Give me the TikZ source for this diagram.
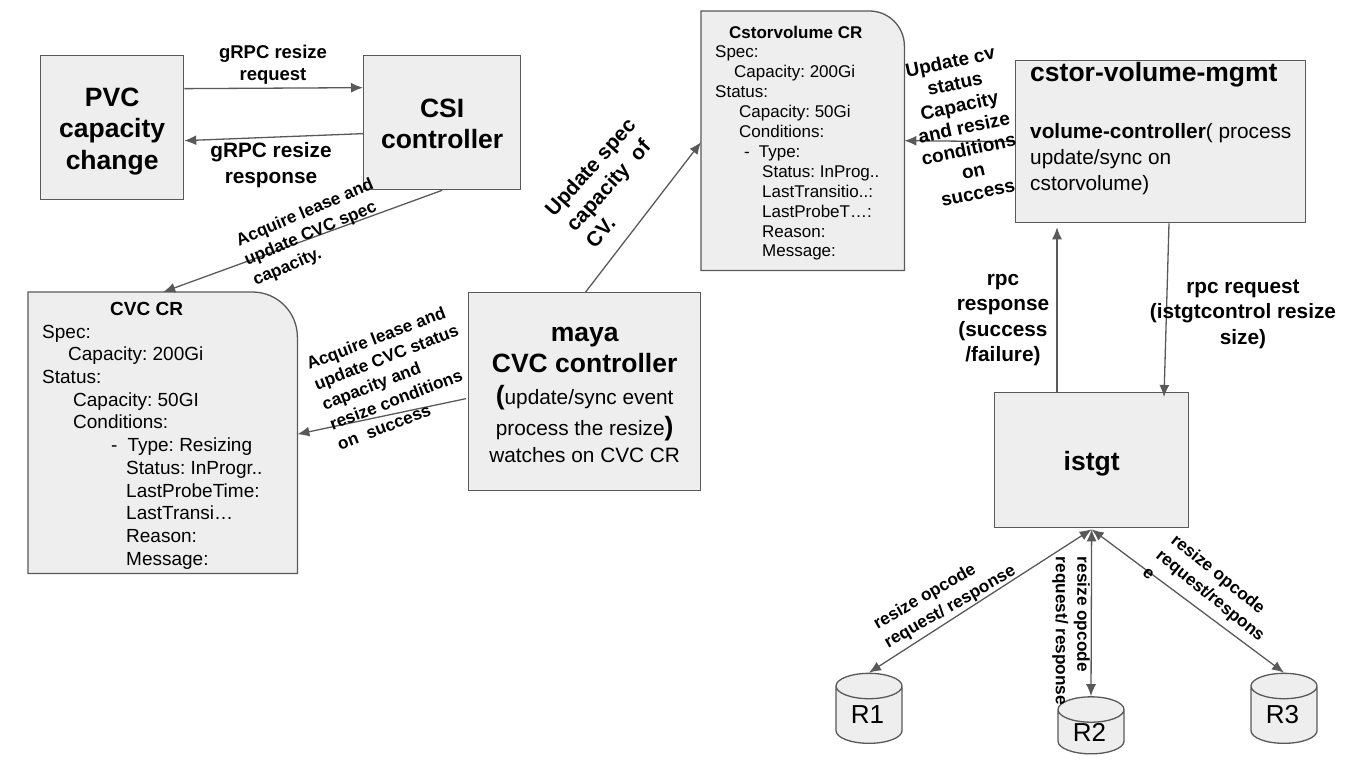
\documentclass[tikz,border=0pt]{standalone}
\usepackage{fontspec}
\setmainfont{Liberation Sans}
\usetikzlibrary{arrows.meta,positioning,calc,shapes.geometric}
\definecolor{boxgrey}{HTML}{EEEEEE}
\definecolor{linegrey}{HTML}{595959}
\newcommand{\regtxt}{\fontsize{20.8}{31.5}\selectfont\mdseries}
\newcommand{\crshape}[2]{\draw[crline] (#1.south west) -- (#1.north west) -- ($(#1.north east)-(#2,0)$) arc[start angle=90,end angle=0,radius=#2pt] -- (#1.south east) -- cycle;}

\begin{document}
\frenchspacing
\begin{tikzpicture}[
    x=1pt, y=-1pt,
    >={Latex[length=12pt,width=10pt]},
    box/.style={rectangle, draw=linegrey, fill=boxgrey, line width=1.3pt, inner sep=0pt, anchor=north west, align=center},
    shell/.style={rectangle, inner sep=0pt, anchor=north west},
    crline/.style={draw=linegrey, fill=boxgrey, line width=1.3pt},
    bigtxt/.style={font=\fontsize{26.5}{31.5}\selectfont\bfseries},
    cvctxt/.style={anchor=north west, inner sep=0pt, align=left, font=\fontsize{19}{22.7}\selectfont},
    cvtxt/.style={anchor=north west, inner sep=0pt, align=left, font=\fontsize{17}{19.9}\selectfont},
    midlabel/.style={inner sep=0pt, align=center, font=\fontsize{20.8}{25.5}\selectfont\bfseries},
    smlabel/.style={inner sep=0pt, align=left, font=\fontsize{17.2}{21.5}\selectfont\bfseries},
    conn/.style={draw=linegrey, line width=1.3pt},
    replica/.style={cylinder, shape border rotate=90, aspect=0.7, draw=linegrey, fill=boxgrey, line width=1.3pt, inner sep=0pt, minimum width=66pt, font=\fontsize{26}{30}\selectfont}
]
\useasboundingbox (0,0) rectangle (1366,768);

\node[box, bigtxt, minimum width=143pt, minimum height=144pt] (pvc) at (40,55) {\rule{0pt}{26pt}PVC\\capacity\\change};
\node[box, bigtxt, minimum width=157pt, minimum height=134pt] (csi) at (363,55) {\rule{0pt}{21pt}CSI\\controller};
\node[box, bigtxt, minimum width=232pt, minimum height=198pt] (maya) at (468,292) {\rule{0pt}{20pt}maya\\CVC controller\\({\regtxt update/sync event}\\{\regtxt process the resize})\\[-5pt]{\regtxt watches on CVC CR}};
\node[box, minimum width=290pt, minimum height=162pt] (mgmt) at (1015,60) {};
\node[box, bigtxt, minimum width=194pt, minimum height=135pt] (istgt) at (994,392) {\rule{0pt}{27pt}istgt};

\node[shell, minimum width=269pt, minimum height=281pt] (cvc) at (28,292) {};
\node[shell, minimum width=203pt, minimum height=259pt] (cv) at (701,11) {};
\crshape{cvc}{45}
\crshape{cv}{35}

\node[cvctxt] (cvctext) at ($(cvc.north west)+(14,10)$) {%
\hspace*{68pt}{\bfseries CVC CR}\\
Spec:\\
\hspace*{26pt}Capacity: 200Gi\\
Status:\\
\hspace*{31pt}Capacity: 50GI\\
\hspace*{31pt}Conditions:\\
\hspace*{69pt}-\hspace*{10pt}Type: Resizing\\
\hspace*{84pt}Status: InProgr..\\
\hspace*{84pt}LastProbeTime:\\
\hspace*{84pt}LastTransi…\\
\hspace*{84pt}Reason:\\
\hspace*{84pt}Message:};

\node[cvtxt] (cvtext) at ($(cv.north west)+(14,14.5)$) {%
\hspace*{14pt}{\bfseries Cstorvolume CR}\\
Spec:\\
\hspace*{19pt}Capacity: 200Gi\\
Status:\\
\hspace*{24pt}Capacity: 50Gi\\
\hspace*{24pt}Conditions:\\
\hspace*{29pt}-\hspace*{9pt}Type:\\
\hspace*{47pt}Status: InProg..\\
\hspace*{47pt}LastTransitio..:\\
\hspace*{47pt}LastProbeT…:\\
\hspace*{47pt}Reason:\\
\hspace*{47pt}Message:};

\node[anchor=north west, inner sep=0pt, align=left, font=\fontsize{20.8}{26}\selectfont] (mgmttext) at ($(mgmt.north west)+(15,2)$) {%
{\fontsize{26.5}{26}\selectfont\bfseries cstor-volume-mgmt}\\[5pt]
\strut\\[0pt]
{\bfseries volume-controller}( process\\
update/sync on\\
cstorvolume)};

\node[replica, minimum height=70pt] (r1) at (869,715) {\raisebox{-2pt}{R1\hspace{3pt}}};
\node[replica, minimum height=57pt] (r2) at (1091,732) {\raisebox{-2pt}{R2\hspace{3pt}}};
\node[replica, minimum height=70pt] (r3) at (1284,715) {\raisebox{-2pt}{R3\hspace{3pt}}};

\draw[->, conn] ($(pvc.east)+(0,-39)$) -- ($(csi.west)+(0,-35)$);
\draw[->, conn] ($(csi.west)+(0,11)$) -- ($(pvc.east)+(0,13)$);
\draw[->, conn] ($(csi.south)+(0,0)$) -- ($(cvc.north)+(0.5,0)$);
\draw[->, conn] ($(maya.north)+(1,0)$) -- ($(cv.west)+(0,1.5)$);
\draw[->, conn] ($(maya.west)+(-2,7)$) -- ($(cvc.east)+(0,1.5)$);
\draw[->, conn] (mgmt.west) -- ($(cv.east)+(0,0)$);
\draw[->, conn] ($(istgt.north west)+(63,0)$) -- ($(mgmt.south west)+(42,4)$);
\draw[->, conn] ($(mgmt.south west)+(154,0)$) -- ($(istgt.north west)+(170,5)$);
\draw[<->, conn] ($(istgt.south)+(0,1)$) -- (r1.north);
\draw[<->, conn] ($(istgt.south)+(0,1)$) -- (r2.north);
\draw[<->, conn] ($(istgt.south)+(0,1)$) -- (r3.north);

\node[inner sep=0pt, align=center, font=\fontsize{18.5}{22}\selectfont\bfseries] (reqlabel) at (273,65) {gRPC resize\\request};
\node[midlabel, font=\fontsize{20.8}{26}\selectfont\bfseries] (resplabel) at (271,165) {gRPC resize\\response};
\node[midlabel, rotate=48, align=left] (speclabel) at (609,184) {Update spec\\\hspace*{3pt}capacity\ \ of\\\hspace*{4pt}CV.};
\node[inner sep=0pt, align=center, rotate=12, font=\fontsize{19}{22.3}\selectfont\bfseries] (cvlabel) at (964,127) {Update cv\\status\\Capacity\\and resize\\conditions\\on\\success};
\node[smlabel, rotate=23] (leaselabel) at (313.5,233) {Acquire lease and\\update CVC spec\\capacity.};
\node[smlabel, rotate=21] (statuslabel) at (394,377) {Acquire lease and\\update CVC status\\capacity and\\resize conditions\\on\ \ success};
\node[midlabel] (rpclabel) at (1003,320) {rpc\\response\\(success\\/failure)};
\node[midlabel] (rpcreqlabel) at (1243,314) {rpc request\\(istgtcontrol resize\\size)};
\node[smlabel, rotate=30] (r1label) at (945,598) {resize opcode\\request/ response};
\node[smlabel, rotate=-90] (r2label) at (1071,631) {resize opcode\\request/ response};
\node[smlabel, rotate=-39] (r3label) at (1211,595) {\hspace*{2pt}resize opcode\\request/respons\\e};

\end{tikzpicture}
\end{document}
